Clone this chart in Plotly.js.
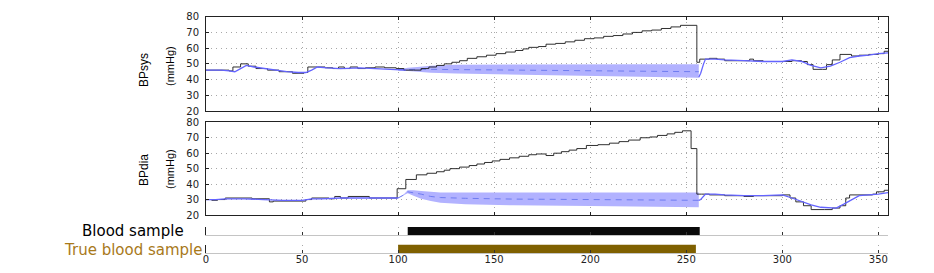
<!DOCTYPE html>
<html>
<head>
<meta charset="utf-8">
<script src="https://cdn.plot.ly/plotly-3.0.1.min.js"></script>
<style>html,body{margin:0;padding:0;background:#fff;}#chart{width:934px;height:273px;}</style>
</head>
<body>
<div id="chart"></div>
<script>
// ---------- data ----------
const xTicks = [0, 50, 100, 150, 200, 250, 300, 350];
const yTicks = [20, 30, 40, 50, 60, 70, 80];
const yTitles = ['BPsys', 'BPdia'];
const unitTitle = '(mmHg)';
const rowLabels = ['Blood sample', 'True blood sample'];
const bloodSample = [105, 257];
const trueBloodSample = [100, 255];

// BPsys measured (black, stepped)
const sysT = [0, 12, 14, 18, 22, 26, 32, 38, 45, 51, 53, 58, 62, 66, 69, 72, 75, 79, 83, 88, 93, 99, 103, 108, 112, 116,
  120, 124, 128, 132, 136, 141, 146, 151, 156, 161, 165, 168, 173, 177, 182, 187, 192, 197, 202, 207, 212, 217, 222, 227, 232, 237, 242, 247, 255.5,
  257, 262, 266, 270, 278, 283, 285, 290, 300, 305, 310, 313, 316, 321, 323, 326, 330, 336, 340, 345, 350, 353, 355];
const sysMeas = [46, 45.5, 48, 50, 48.5, 47, 46, 45, 44, 44.5, 48, 48, 47.5, 47, 48, 47, 48, 47, 47.5, 48, 47.5, 47, 46, 46, 47, 48,
  49, 50, 51, 52, 53.5, 54.5, 55.5, 56.5, 57.5, 58.5, 59.5, 60.5, 61, 62.5, 63, 64, 65, 66, 66.5, 67.5, 68, 69, 70, 71, 71.5, 72.5, 73.5, 74.5, 51,
  53, 53.5, 53, 52, 52, 53, 52, 51.5, 51.5, 52, 51.5, 49.5, 46.5, 46.5, 49.5, 52.5, 56, 55, 55.5, 56, 56.5, 58, 58];
// BPsys estimate (blue)
const sysEstT = [0, 8, 12, 15, 18, 21, 25, 30, 36, 42, 48, 52, 55, 58, 63, 70, 80, 90, 100, 104, 105,
  256.5, 257.5, 259, 260, 265, 270, 280, 290, 300, 305, 310, 315, 320, 325, 330, 335, 340, 345, 350, 355];
const sysEst = [46, 46, 45.5, 45, 47, 49, 48, 47, 46, 45, 44.5, 44.5, 46, 48, 47.5, 47, 47.5, 47, 46.5, 46, null,
  41.5, 44, 50, 53, 53, 52.5, 52, 51.5, 51.5, 52.5, 51.5, 49, 47.5, 48.5, 51, 54, 55, 55.5, 56.5, 57];
// BPsys prediction band
const sysBandT = [100, 105, 110, 117, 130, 160, 200, 230, 256.5];
const sysBandHi = [46.5, 47.5, 48, 48.8, 49.5, 49.7, 49.7, 49.7, 49.7];
const sysBandLo = [46, 45.5, 45, 44.3, 43.8, 43.2, 42.5, 42, 41.2];
const sysMean = [46.2, 46.5, 46.5, 46.5, 46.4, 46, 45.6, 45.3, 45];

// BPdia measured (black, stepped)
const diaT = [0, 3, 6, 10, 24, 33, 35, 52, 55, 64, 67, 70, 74, 85, 99.5, 104, 109.5, 115, 120, 124,
  127, 132, 137, 141, 145, 149, 153, 158, 163, 168, 172, 177, 181, 185, 189, 193, 198, 204, 210, 215,
  220, 226, 231, 235, 240, 244, 248, 252.5, 255.5, 258, 262, 270, 280, 285, 300, 304, 307, 311, 315, 322,
  326, 330, 333, 335, 347, 349, 353, 355];
const diaMeas = [30, 29.5, 30, 31, 30.5, 28.5, 29, 30, 31, 30.5, 32, 31, 32, 31, 37, 43, 46, 47, 48, 49,
  50, 51, 52, 53, 54, 55, 56, 57, 58, 59, 59.5, 58.5, 60, 61, 62, 63, 65, 65.5, 66.5, 67.5,
  68.5, 70, 70.5, 71.5, 72.5, 73.5, 74.5, 63, 33.5, 33.5, 33, 32.5, 32, 32.5, 33, 31, 28.5, 26, 23.5, 23.5,
  24.5, 26, 31, 33, 33.5, 35, 36, 36];
// BPdia estimate (blue)
const diaEstT = [0, 5, 10, 20, 30, 40, 50, 55, 60, 70, 80, 90, 99, 100, 100.5,
  256.5, 257.5, 260, 265, 270, 280, 290, 300, 305, 310, 315, 320, 325, 328, 332, 336, 340, 345, 350, 355];
const diaEst = [30, 30, 30.5, 30.5, 30, 29.5, 29.5, 30.5, 30.5, 31, 31, 31, 31, 31, null,
  29.5, 30, 33.5, 33.5, 33, 32.5, 32.5, 33, 31, 28.5, 26.5, 25, 24.5, 24.5, 27, 30, 32.5, 33, 33.5, 34.5];
// BPdia prediction band
const diaBandT = [100, 103, 105, 108, 112, 117, 122, 135, 160, 200, 230, 256.5];
const diaBandHi = [31, 33.5, 36, 36, 35.5, 35, 34.5, 34.5, 34.5, 34.5, 34.5, 34.5];
const diaBandLo = [31, 32.5, 34, 32.5, 30.5, 29, 28, 27, 26.3, 25.8, 25.4, 25];
const diaMean = [31, 33, 35, 34.5, 33.5, 32, 31.3, 30.8, 30.3, 30, 29.8, 29.5];

// ---------- styling ----------
const H = 273, W = 934, ML = 206, MR = 46;
const PW = W - ML - MR;
function dom(pTop, pBot) { return [(H - pBot) / H, (H - pTop) / H]; }
const tickFont = {family: 'DejaVu Sans, sans-serif', size: 10, color: '#222'};
const BLUE = '#6464ff', BAND = '#b2b2ff', MEANC = '#6f7cf0', BLACK = '#1a1a1a';
const GRIDC = '#a8a8a8', GRIDDASH = '1px,4px';

function panelTraces(t, meas, estT, est, bT, lo, hi, mean, xa, ya) {
  return [
    {x: bT, y: lo, xaxis: xa, yaxis: ya, type: 'scatter', mode: 'lines', line: {width: 0, color: BAND}, hoverinfo: 'skip', showlegend: false},
    {x: bT, y: hi, xaxis: xa, yaxis: ya, type: 'scatter', mode: 'lines', line: {width: 0, color: BAND}, fill: 'tonexty', fillcolor: BAND, hoverinfo: 'skip', showlegend: false},
    {x: bT, y: mean, xaxis: xa, yaxis: ya, type: 'scatter', mode: 'lines', line: {width: 1, color: MEANC, dash: '6px,5px'}, showlegend: false},
    {x: t, y: meas, xaxis: xa, yaxis: ya, type: 'scatter', mode: 'lines', line: {width: 0.9, color: BLACK, shape: 'hv'}, showlegend: false},
    {x: estT, y: est, xaxis: xa, yaxis: ya, type: 'scatter', mode: 'lines', line: {width: 1.3, color: BLUE}, showlegend: false}
  ];
}

const traces = [].concat(
  panelTraces(sysT, sysMeas, sysEstT, sysEst, sysBandT, sysBandLo, sysBandHi, sysMean, 'x', 'y'),
  panelTraces(diaT, diaMeas, diaEstT, diaEst, diaBandT, diaBandLo, diaBandHi, diaMean, 'x2', 'y2'),
  [
    {type: 'bar', orientation: 'h', y: [0.5], base: [bloodSample[0]], x: [bloodSample[1] - bloodSample[0]], width: [1],
     marker: {color: '#0a0a0a', line: {width: 0}}, xaxis: 'x3', yaxis: 'y3', showlegend: false},
    {type: 'bar', orientation: 'h', y: [0.5], base: [trueBloodSample[0]], x: [trueBloodSample[1] - trueBloodSample[0]], width: [1],
     marker: {color: '#7f6000', line: {width: 0}}, xaxis: 'x4', yaxis: 'y4', showlegend: false}
  ]
);

function mainX(anchor) {
  return {anchor: anchor, domain: [0, 1], range: [0, 355], tickvals: xTicks, showticklabels: false,
    ticks: 'inside', ticklen: 3, tickcolor: '#222', mirror: 'ticks', showline: true, linecolor: '#222', linewidth: 1,
    showgrid: true, gridcolor: GRIDC, griddash: GRIDDASH, gridwidth: 1, zeroline: false, fixedrange: true};
}
function mainY(anchor, d) {
  return {anchor: anchor, domain: d, range: [20, 80], tickvals: yTicks, tickfont: tickFont,
    ticks: 'inside', ticklen: 3, tickcolor: '#222', mirror: 'ticks', showline: true, linecolor: '#222', linewidth: 1,
    showgrid: true, gridcolor: GRIDC, griddash: GRIDDASH, gridwidth: 1, zeroline: false, ticklabelstandoff: 4, fixedrange: true};
}
function rowX(anchor, labels) {
  return {anchor: anchor, domain: [0, 1], range: [0, 355], tickvals: xTicks, showticklabels: labels, tickfont: tickFont,
    ticks: 'inside', ticklen: 3, tickcolor: '#333', showline: true, linecolor: '#c4c4c4', linewidth: 1,
    showgrid: true, gridcolor: GRIDC, griddash: GRIDDASH, zeroline: false, ticklabelstandoff: -3, fixedrange: true};
}
function rowY(anchor, d) {
  return {anchor: anchor, domain: d, range: [0, 1], showticklabels: false, ticks: '', showgrid: false, zeroline: false,
    showline: true, linecolor: '#222', linewidth: 1, fixedrange: true};
}

const layout = {
  width: W, height: H,
  margin: {l: ML, r: MR, t: 0, b: 0},
  paper_bgcolor: '#fff', plot_bgcolor: '#fff',
  showlegend: false,
  font: {family: 'DejaVu Sans, sans-serif', size: 10, color: '#111'},
  xaxis: mainX('y'),
  yaxis: mainY('x', dom(16.7, 111)),
  xaxis2: mainX('y2'),
  yaxis2: mainY('x2', dom(122.3, 215)),
  xaxis3: rowX('y3', false),
  yaxis3: rowY('x3', dom(227, 235)),
  xaxis4: rowX('y4', true),
  yaxis4: rowY('x4', dom(244.5, 253)),
  annotations: [
    {text: yTitles[0], xref: 'paper', yref: 'paper', x: (144 - ML) / PW, y: (H - 70) / H, xanchor: 'center', yanchor: 'middle', textangle: -90, showarrow: false,
     font: {family: 'Liberation Sans, Arial, sans-serif', size: 12, color: '#000'}},
    {text: unitTitle, xref: 'paper', yref: 'paper', x: (170 - ML) / PW, y: (H - 66) / H, xanchor: 'center', yanchor: 'middle', textangle: -90, showarrow: false,
     font: {family: 'Liberation Sans, Arial, sans-serif', size: 11, color: '#000'}},
    {text: yTitles[1], xref: 'paper', yref: 'paper', x: (144 - ML) / PW, y: (H - 170) / H, xanchor: 'center', yanchor: 'middle', textangle: -90, showarrow: false,
     font: {family: 'Liberation Sans, Arial, sans-serif', size: 12, color: '#000'}},
    {text: unitTitle, xref: 'paper', yref: 'paper', x: (170 - ML) / PW, y: (H - 169) / H, xanchor: 'center', yanchor: 'middle', textangle: -90, showarrow: false,
     font: {family: 'Liberation Sans, Arial, sans-serif', size: 11, color: '#000'}},
    {text: rowLabels[0], xref: 'paper', yref: 'paper', x: (186 - ML) / PW, y: (H - 231) / H, xanchor: 'right', yanchor: 'middle', showarrow: false,
     font: {family: 'DejaVu Sans, sans-serif', size: 15, color: '#000'}},
    {text: rowLabels[1], xref: 'paper', yref: 'paper', x: (205 - ML) / PW, y: (H - 249.5) / H, xanchor: 'right', yanchor: 'middle', showarrow: false,
     font: {family: 'DejaVu Sans, sans-serif', size: 15, color: '#a8791a'}}
  ]
};

Plotly.newPlot('chart', traces, layout, {staticPlot: true, displayModeBar: false});
</script>
</body>
</html>
